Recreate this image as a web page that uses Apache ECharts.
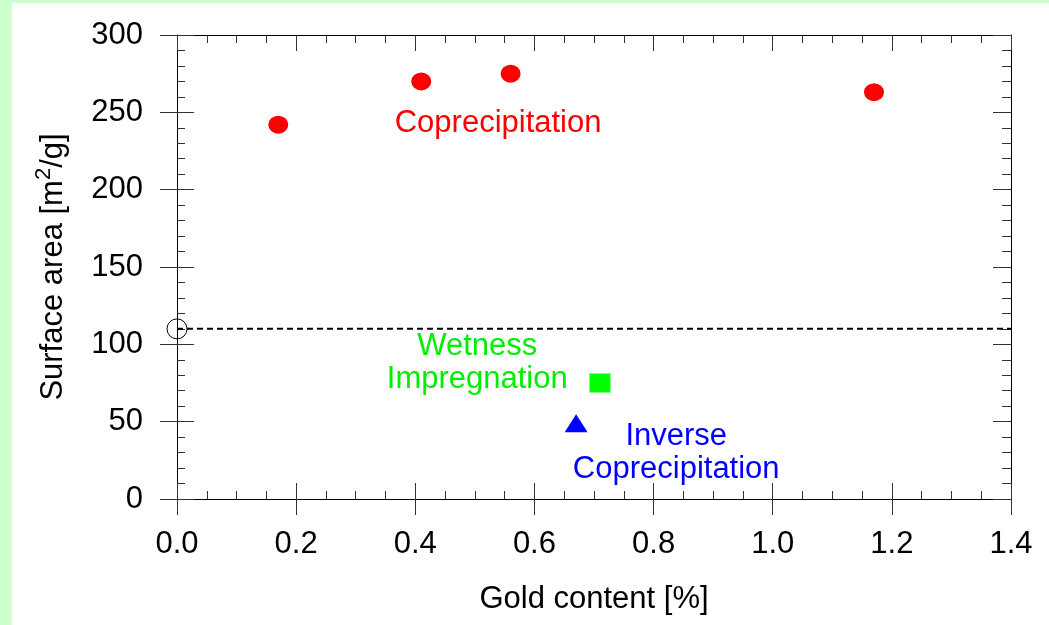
<!DOCTYPE html>
<html>
<head>
<meta charset="utf-8">
<script src="https://cdn.jsdelivr.net/npm/echarts@6/dist/echarts.min.js"></script>
<style>
  html, body { margin: 0; padding: 0; background: #ccffcc; width: 1049px; height: 625px; overflow: hidden; }
  #chart { position: absolute; left: 12px; top: 3px; width: 1037px; height: 622px; background: #ffffff; }
</style>
</head>
<body>
<div id="chart"></div>
<script>
// Gold content [%] and BET surface area [m2/g] by preparation route
const coprecipGold = [0.17, 0.41, 0.56, 1.17];
const coprecipArea = [242, 270, 275, 263];
const wetnessGold = [0.71];
const wetnessArea = [75];
const inverseGold = [0.67];
const inverseArea = [49];
const supportGold = [0];
const supportArea = [110];

// Text notes placed in data coordinates
const noteText = ['Coprecipitation', 'Wetness\nImpregnation', 'Inverse\nCoprecipitation'];
const noteGold = [0.539, 0.504, 0.838];
const noteArea = [243, 88, 30];
const noteColor = ['#ff0000', '#00ee00', '#0000ff'];

const FONT = "'Liberation Sans', Arial, sans-serif";
const FS = 31;
const pairs = (xs, ys) => xs.map((x, i) => [x, ys[i]]);

const chart = echarts.init(document.getElementById('chart'), null, { renderer: 'canvas' });

const tickStyle = { color: '#333', width: 1 };
const lineStyle = { color: '#000', width: 1 };
const gridRect = { left: 165, right: 38, top: 32, bottom: 126 };

const xBase = { type: 'value', min: 0, max: 1.4, interval: 0.2, splitLine: { show: false } };
const yBase = { type: 'value', min: 0, max: 300, interval: 50, splitLine: { show: false } };

chart.setOption({
  animation: false,
  textStyle: { fontFamily: FONT },
  // grid 0 carries the data and inward ticks; grid 1 only adds the outward major ticks
  grid: [Object.assign({}, gridRect), Object.assign({}, gridRect)],
  xAxis: [
    Object.assign({}, xBase, {
      gridIndex: 0,
      position: 'bottom',
      name: 'Gold content [%]',
      nameLocation: 'middle',
      nameGap: 85,
      nameTextStyle: { fontSize: FS, color: '#000', fontFamily: FONT },
      axisLine: { show: true, onZero: false, lineStyle: lineStyle },
      axisTick: { show: true, inside: true, length: 16, lineStyle: tickStyle },
      minorTick: { show: true, splitNumber: 4, length: 8, lineStyle: tickStyle },
      axisLabel: { fontSize: FS, color: '#000', margin: 30, fontFamily: FONT, formatter: v => v.toFixed(1) }
    }),
    Object.assign({}, xBase, {
      gridIndex: 0,
      position: 'top',
      axisLine: { show: true, onZero: false, lineStyle: lineStyle },
      axisTick: { show: true, inside: true, length: 16, lineStyle: tickStyle },
      minorTick: { show: true, splitNumber: 4, length: 8, lineStyle: tickStyle },
      axisLabel: { show: false }
    }),
    Object.assign({}, xBase, {
      gridIndex: 1,
      position: 'bottom',
      axisLine: { show: false, onZero: false },
      axisTick: { show: true, inside: false, length: 16, lineStyle: tickStyle },
      axisLabel: { show: false }
    })
  ],
  yAxis: [
    Object.assign({}, yBase, {
      gridIndex: 0,
      position: 'left',
      name: 'Surface area [m{sup|2}/g]',
      nameLocation: 'middle',
      nameGap: 104,
      nameTextStyle: {
        fontSize: FS, color: '#000', fontFamily: FONT,
        rich: { sup: { fontSize: 22, color: '#000', fontFamily: FONT, verticalAlign: 'top', padding: [0, 0, 18, 0] } }
      },
      axisLine: { show: true, onZero: false, lineStyle: lineStyle },
      axisTick: { show: true, inside: true, length: 17, lineStyle: tickStyle },
      minorTick: { show: true, splitNumber: 5, length: 8, lineStyle: tickStyle },
      axisLabel: { fontSize: FS, color: '#000', margin: 34, fontFamily: FONT }
    }),
    Object.assign({}, yBase, {
      gridIndex: 0,
      position: 'right',
      axisLine: { show: true, onZero: false, lineStyle: lineStyle },
      axisTick: { show: true, inside: true, length: 18, lineStyle: tickStyle },
      minorTick: { show: true, splitNumber: 5, length: 9, lineStyle: tickStyle },
      axisLabel: { show: false }
    }),
    Object.assign({}, yBase, {
      gridIndex: 1,
      position: 'left',
      axisLine: { show: false, onZero: false },
      axisTick: { show: true, inside: false, length: 17, lineStyle: tickStyle },
      axisLabel: { show: false }
    })
  ],
  series: [
    {
      name: 'Support reference',
      type: 'line',
      xAxisIndex: 0, yAxisIndex: 0,
      data: [[0, supportArea[0]], [1.4, supportArea[0]]],
      symbol: 'none',
      lineStyle: { color: '#000', width: 2, type: [6, 4], opacity: 1 },
      z: 3
    },
    {
      name: 'Support',
      type: 'scatter',
      xAxisIndex: 0, yAxisIndex: 0,
      clip: false,
      data: pairs(supportGold, supportArea),
      symbol: 'circle',
      symbolSize: 20,
      itemStyle: { color: 'rgba(255,255,255,0)', borderColor: '#000', borderWidth: 1, opacity: 1 },
      z: 4
    },
    {
      name: 'Coprecipitation',
      type: 'scatter',
      xAxisIndex: 0, yAxisIndex: 0,
      data: pairs(coprecipGold, coprecipArea),
      symbol: 'circle',
      symbolSize: [20, 18],
      itemStyle: { color: '#ff0000', opacity: 1 },
      z: 5
    },
    {
      name: 'Wetness Impregnation',
      type: 'scatter',
      xAxisIndex: 0, yAxisIndex: 0,
      data: pairs(wetnessGold, wetnessArea),
      symbol: 'rect',
      symbolSize: [21, 19],
      itemStyle: { color: '#00ff00', opacity: 1 },
      z: 5
    },
    {
      name: 'Inverse Coprecipitation',
      type: 'scatter',
      xAxisIndex: 0, yAxisIndex: 0,
      data: pairs(inverseGold, inverseArea),
      symbol: 'triangle',
      symbolSize: [23, 18],
      itemStyle: { color: '#0000ff', opacity: 1 },
      z: 5
    },
    {
      name: 'Notes',
      type: 'scatter',
      xAxisIndex: 0, yAxisIndex: 0,
      clip: false,
      symbolSize: 0,
      silent: true,
      itemStyle: { opacity: 1 },
      data: noteText.map((t, i) => ({
        value: [noteGold[i], noteArea[i]],
        label: {
          show: true,
          position: 'inside',
          formatter: t,
          color: noteColor[i],
          fontSize: FS,
          lineHeight: 33,
          align: 'center',
          fontFamily: FONT
        }
      })),
      z: 6
    }
  ]
});
</script>
</body>
</html>
